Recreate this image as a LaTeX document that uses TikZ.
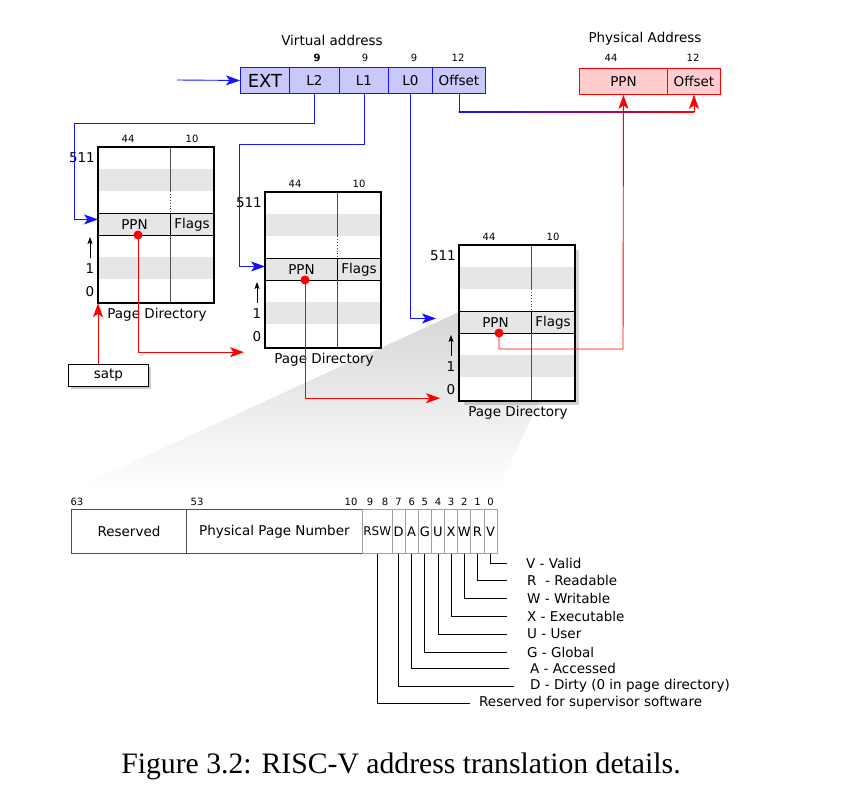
\documentclass[tikz,border=0pt]{standalone}
\usepackage{fontspec}
\setmainfont{Liberation Serif}
\setsansfont{DejaVu Sans}
\usetikzlibrary{arrows.meta,shadows,calc}
\definecolor{vblue}{RGB}{20,20,255}
\definecolor{vfill}{RGB}{200,200,250}
\definecolor{pred}{RGB}{255,0,0}
\definecolor{pfill}{RGB}{255,205,205}
\definecolor{rowgray}{RGB}{230,230,230}
\definecolor{linegray}{RGB}{80,80,80}
\definecolor{bitgray}{RGB}{160,160,160}
\newcommand\pgdirectory[4]{%
\begin{scope}[shift={(#2,#3)}]
  \node[draw, line width=1.2pt, fill=white, minimum width=115pt, minimum height=155pt, inner sep=0pt, anchor=north west, #4] (#1) at (0,0) {};
  \fill[rowgray] (0,22) rectangle (115,44);
  \fill[rowgray] (0,110) rectangle (115,132);
  \node[cell, minimum width=72pt, anchor=north west] (#1ppn) at (0,66) {PPN};
  \node[cell, minimum width=43pt, anchor=north west] (#1flags) at (72,66) {Flags};
  \draw[linegray, line width=0.9pt] (72,0) -- (72,44);
  \draw[linegray, line width=0.9pt, dotted] (72,44) -- (72,66);
  \draw[linegray, line width=0.9pt] (72,88) -- (72,155);
  \draw[line width=1.2pt] (#1.north west) rectangle (#1.south east);
  \node[anchor=east, inner sep=0pt] at (-3,11) {511};
  \node[small] at (30,-8) {44};
  \node[small] at (94,-8) {10};
  \draw[line width=0.8pt, -{Stealth[length=7pt,width=5pt,inset=1.5pt]}] (-8,111) -- (-8,90);
  \node at (-8,122) {1};
  \node at (-8,145) {0};
  \node at (59,168) {Page Directory};
  \coordinate (#1dot) at (40,88);
\end{scope}}
\begin{document}
\begin{tikzpicture}[x=1pt,y=-1pt,
  font=\sffamily\fontsize{13.5}{16}\selectfont,
  field/.style={draw, minimum height=26pt, inner sep=0pt, anchor=north west, line width=0.9pt},
  vfield/.style={field, draw=vblue, fill=vfill},
  pfield/.style={field, draw=pred, fill=pfill},
  cell/.style={draw, line width=0.9pt, fill=rowgray, minimum height=22pt, inner sep=0pt},
  small/.style={font=\sffamily\fontsize{10}{12}\selectfont},
  bluearrow/.style={vblue, line width=0.9pt, -{Stealth[length=14pt,width=10pt,inset=3.5pt]}},
  redarrow/.style={pred, line width=0.9pt, -{Stealth[length=14pt,width=10pt,inset=3.5pt]}},
  bigbox/.style={draw=linegray, line width=0.9pt, minimum height=44pt, inner sep=0pt, anchor=north west},
  bitbox/.style={draw=bitgray, line width=0.9pt, minimum height=44pt, minimum width=13.15pt, inner sep=0pt, anchor=north west, font=\sffamily\fontsize{13}{15}\selectfont},
  legend/.style={anchor=west, inner sep=0pt},
  leg/.style={line width=0.8pt}
]
\useasboundingbox (0,0) rectangle (858,788);

% zoom wedge
\shade[top color=black!16, bottom color=white] (459,312) -- (540,400) -- (497,491) -- (70,491) -- cycle;

% virtual address
\node at (332,40) {Virtual address};
\node[vfield, minimum width=49pt, font=\sffamily\fontsize{18}{20}\selectfont] (ext) at (240,67) {EXT};
\node[vfield, minimum width=50pt] (l2) at (289,67) {L2};
\node[vfield, minimum width=49pt] (l1) at (339,67) {L1};
\node[vfield, minimum width=44pt] (l0) at (388,67) {L0};
\node[vfield, minimum width=53pt] (voff) at (432,67) {Offset};
\node[small, font=\sffamily\bfseries\fontsize{10}{12}\selectfont] at (317,58) {9};
\node[small] at (365,58) {9};
\node[small] at (414,58) {9};
\node[small] at (458,58) {12};
\coordinate (in) at (177,80);
\draw[bluearrow] (in) -- (ext.west);

% physical address
\node at (645,39) {Physical Address};
\node[pfield, minimum width=88pt] (pppn) at (579,68) {PPN};
\node[pfield, minimum width=53pt] (poff) at (667,68) {Offset};
\node[small] at (611,58) {44};
\node[small] at (693,58) {12};

% page directories
\pgdirectory{pda}{98}{147}{}
\pgdirectory{pdb}{265}{192}{}
\pgdirectory{pdc}{459}{245}{drop shadow={shadow xshift=4pt, shadow yshift=-4pt, opacity=0.35}}

% satp
\node[draw, line width=0.9pt, fill=white, minimum width=80pt, minimum height=22pt, inner sep=0pt, anchor=north west,
      drop shadow={shadow xshift=3pt, shadow yshift=-3pt, opacity=0.4}] (satp) at (68,364) {satp};

% blue connectors
\coordinate (b1) at (74,123);
\coordinate (b2) at (239,144);
\draw[bluearrow] (l2.south) |- (b1) |- ([yshift=5pt]pdappn.west);
\draw[bluearrow] (l1.south) |- (b2) |- ([yshift=3pt]pdbppn.west);
\draw[bluearrow] (l0.south) |- ([xshift=-23pt,yshift=4pt]pdcppn.west);

% red connectors
\draw[redarrow] (satp.north -| pda.south west) -- (pda.south west);
\draw[redarrow] (pdadot) |- ([xshift=-21pt,yshift=-4pt]pdb.south west);
\draw[redarrow] (pdbdot) |- ([xshift=-19pt,yshift=3pt]pdc.south west);
\coordinate (b3) at (623,349);
\draw[redarrow] (pdcdot) |- (b3) -- (pppn.south);
\foreach \n in {pda,pdb,pdc}{\fill[pred] (\n dot) circle (4.5pt);}

% offset connector
\path (voff.south) ++(0,18) coordinate (b4);
\coordinate (b5) at (poff.south |- b4);
\draw[vblue, line width=0.9pt] (voff.south) -- (b4);
\shade[left color=vblue, right color=pred] ($(b4)+(-0.45,-0.45)$) rectangle ($(b5)+(0.45,0.45)$);
\draw[redarrow] (b5) -- (poff.south);

% page table entry
\node[bigbox, minimum width=115pt, fill=white] (res) at (71,509) {Reserved};
\node[bigbox, minimum width=176pt, fill=white] (ppnf) at (186,509) {Physical Page Number};
\node[bitbox, minimum width=29.5pt, fill=white, font=\sffamily\fontsize{12}{14}\selectfont] (rsw) at (362,509) {RSW};
\foreach \l [count=\i from 0] in {D,A,G,U,X,W,R,V}{
  \node[bitbox, fill=white] (bit\l) at (391.5+13.15*\i,509) {\l};
}
\foreach \t/\x in {63/77,53/197,10/351,9/370,8/385}{\node[small] at (\x,502) {\t};}
\foreach \l/\t in {D/7,A/6,G/5,U/4,X/3,W/2,R/1,V/0}{\node[small] at ([yshift=7pt]bit\l.north) {\t};}

% legend
\foreach \l/\y/\e/\lx/\txt in {V/563/507/526/{V - Valid},R/580/507/527/{R~ - Readable},W/598/507/527/{W - Writable},X/616/507/527/{X - Executable},U/634/507/527/{U - User},G/652/507/527/{G - Global},A/668/509/530/{A - Accessed},D/686/514/530/{D - Dirty (0 in page directory)}}{
  \coordinate (e\l) at (\e,\y);
  \draw[leg] (bit\l.south) |- (e\l);
  \node[legend] at (\lx,\y) {\txt};
}
\coordinate (ersw) at (470,703);
\draw[leg] (rsw.south) |- (ersw);
\node[legend] at (479,703) {Reserved for supervisor software};

% caption
\node[anchor=base, font=\rmfamily\fontsize{29.7}{36}\selectfont] at (401,773) {Figure 3.2: RISC-V address translation details.};
\end{tikzpicture}
\end{document}
